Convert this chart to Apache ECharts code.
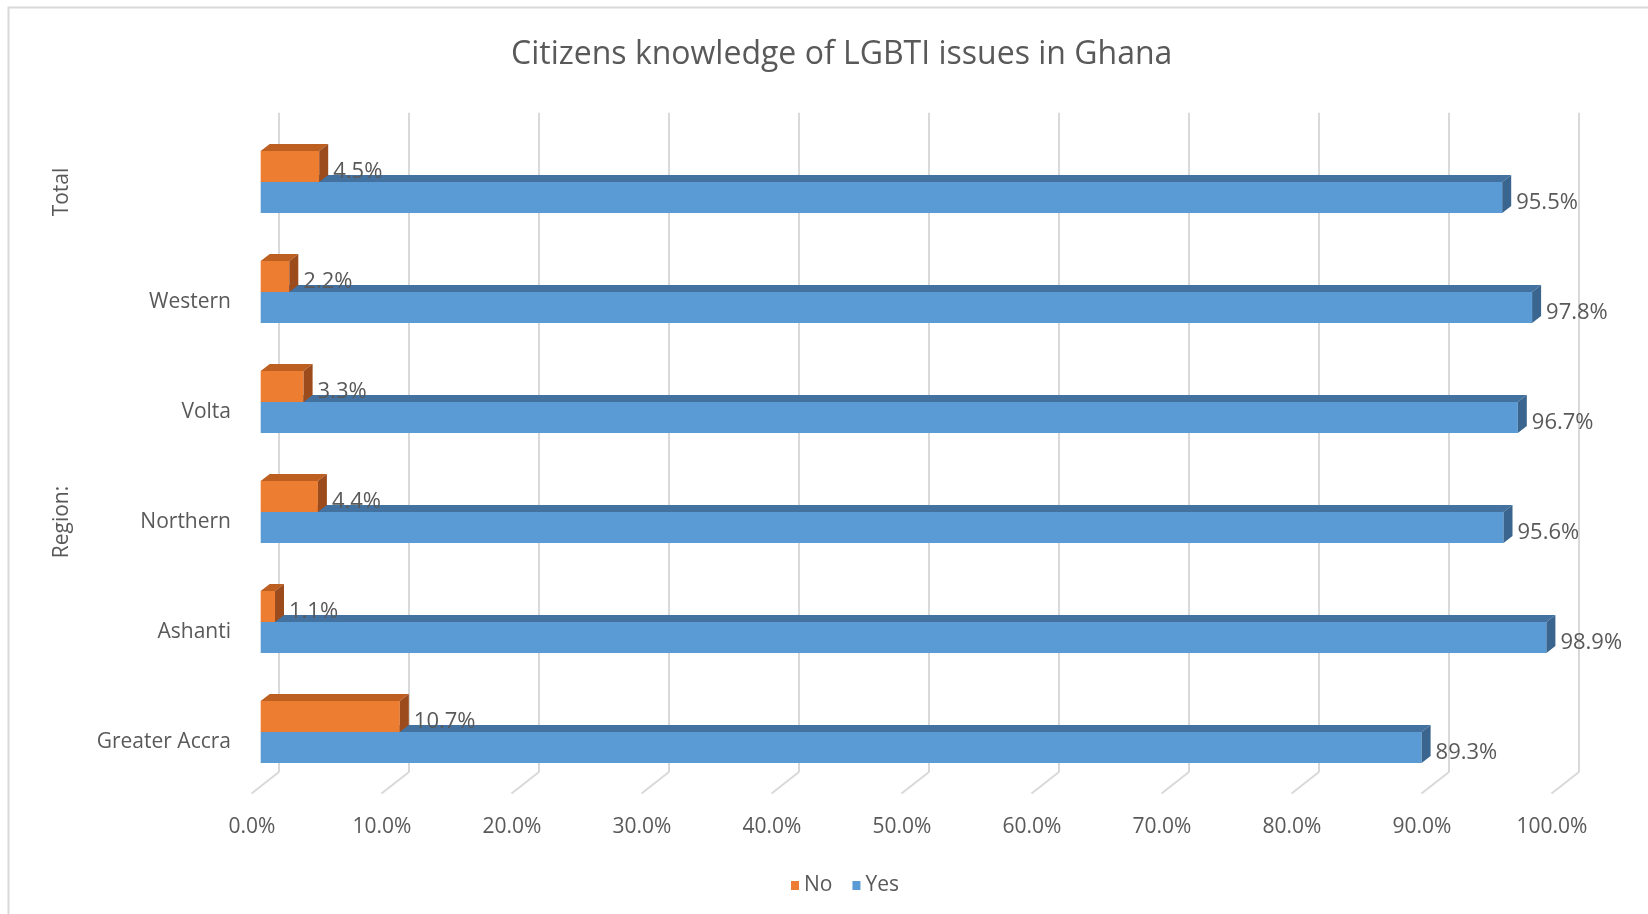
<!DOCTYPE html>
<html>
<head>
<meta charset="utf-8">
<script src="https://cdn.jsdelivr.net/npm/echarts@6/dist/echarts.min.js"></script>
<style>
  html, body { margin: 0; padding: 0; background: #ffffff; }
  #chart { width: 1648px; height: 914px; }
</style>
</head>
<body>
<div id="chart"></div>
<script>
// Survey answers, top row first
const regions = ['', 'Western', 'Volta', 'Northern', 'Ashanti', 'Greater Accra'];
const groupLabels = ['Total', '', '', 'Region:', '', ''];
const noValues = [4.5, 2.2, 3.3, 4.4, 1.1, 10.7];
const yesValues = [95.5, 97.8, 96.7, 95.6, 98.9, 89.3];
const seriesNames = ['No', 'Yes'];
const percentTicks = [0, 10, 20, 30, 40, 50, 60, 70, 80, 90, 100];

const TEXT = '#595959';
const FONT = '"Open Sans", "Noto Sans", sans-serif';
const GRID_LINE = '#D9D9D9';

// Bar faces: front, top, side
const PALETTE = {
  No:  { front: '#ED7D31', top: '#BE5F22', side: '#9C4C1C' },
  Yes: { front: '#5B9BD5', top: '#4372A0', side: '#39658F' }
};

// Pseudo-3D depth of the bars and of the floor
const BAR_DX = 9, BAR_DY = 7;
const FLOOR_DX = 27.5, FLOOR_DY = 21.5;
const BAR_FRACTION = 31 / 110;

function barRenderer(name, above) {
  const col = PALETTE[name];
  return function (params, api) {
    const v = api.value(0);
    const cat = api.value(1);
    const p0 = api.coord([0, cat]);
    const p1 = api.coord([v, cat]);
    const h = api.size([0, 1])[1] * BAR_FRACTION;
    const x0 = p0[0], x1 = p1[0];
    const yTop = above ? p0[1] - h : p0[1];
    const yBot = yTop + h;
    return {
      type: 'group',
      children: [
        { type: 'rect', shape: { x: x0, y: yTop, width: x1 - x0, height: h },
          style: { fill: col.front } },
        { type: 'polygon', shape: { points: [[x0, yTop], [x0 + BAR_DX, yTop - BAR_DY], [x1 + BAR_DX, yTop - BAR_DY], [x1, yTop]] },
          style: { fill: col.top } },
        { type: 'polygon', shape: { points: [[x1, yTop], [x1 + BAR_DX, yTop - BAR_DY], [x1 + BAR_DX, yBot - BAR_DY], [x1, yBot]] },
          style: { fill: col.side } },
        { type: 'text', x: x1 + BAR_DX + 5, y: (yTop + yBot) / 2 + 5,
          style: { text: v.toFixed(1) + '%', fill: TEXT, font: '22px ' + FONT, textAlign: 'left', textVerticalAlign: 'middle' } }
      ]
    };
  };
}

function floorTickRenderer(params, api) {
  const p = api.coord([api.value(0), 0]);
  return {
    type: 'line',
    shape: { x1: p[0], y1: p[1], x2: p[0] - FLOOR_DX, y2: p[1] + FLOOR_DY },
    style: { stroke: GRID_LINE, lineWidth: 2 }
  };
}

const chart = echarts.init(document.getElementById('chart'), null, { renderer: 'canvas' });

const option = {
  backgroundColor: '#ffffff',
  animation: false,
  textStyle: { fontFamily: FONT },
  title: {
    text: 'Citizens knowledge of LGBTI issues in Ghana',
    left: 506, top: 34,
    textStyle: { color: TEXT, fontSize: 32, fontWeight: 'normal', fontFamily: FONT }
  },
  legend: {
    data: seriesNames,
    left: 786, top: 870,
    itemWidth: 8, itemHeight: 9, itemGap: 20,
    icon: 'rect',
    textStyle: { color: TEXT, fontSize: 21, fontFamily: FONT }
  },
  graphic: [{
    type: 'rect', silent: true, z: -10,
    shape: { x: 8.5, y: 7.5, width: 1700, height: 1000 },
    style: { fill: 'none', stroke: GRID_LINE, lineWidth: 2 }
  }],
  grid: [
    // bars (front plane)
    { left: 260.7, top: 127, width: 1300, height: 660 },
    // back wall with gridlines
    { left: 279, top: 112.7, width: 1300, height: 659.3 },
    // front floor edge: tick labels and category labels
    { left: 252, top: 137, width: 1300, height: 660 }
  ],
  xAxis: [
    { gridIndex: 0, type: 'value', min: 0, max: 100, interval: 10, show: false },
    { gridIndex: 1, type: 'value', min: 0, max: 100, interval: 10,
      axisLine: { show: false }, axisTick: { show: false }, axisLabel: { show: false },
      splitLine: { show: true, lineStyle: { color: GRID_LINE, width: 2 } } },
    { gridIndex: 2, type: 'value', min: 0, max: 100, interval: 10,
      axisLine: { show: false }, axisTick: { show: false }, splitLine: { show: false },
      axisLabel: { color: TEXT, fontSize: 21, fontFamily: FONT, margin: 20,
        formatter: function (v) { return v.toFixed(1) + '%'; } } }
  ],
  yAxis: [
    { gridIndex: 0, type: 'category', data: regions, inverse: true, show: false },
    { gridIndex: 1, type: 'value', min: 0, max: 1, show: false },
    { gridIndex: 2, type: 'category', data: regions, inverse: true,
      axisLine: { show: false }, axisTick: { show: false }, splitLine: { show: false },
      axisLabel: { color: TEXT, fontSize: 21, fontFamily: FONT, margin: 21, interval: 0 } },
    { gridIndex: 2, type: 'category', data: groupLabels, inverse: true, position: 'left', offset: 171,
      axisLine: { show: false }, axisTick: { show: false }, splitLine: { show: false },
      axisLabel: { color: TEXT, fontSize: 21, fontFamily: FONT, margin: 8, rotate: 90, interval: 0 } }
  ],
  series: [
    {
      name: 'No', type: 'custom', xAxisIndex: 0, yAxisIndex: 0, z: 4,
      itemStyle: { color: PALETTE.No.front },
      renderItem: barRenderer('No', true),
      encode: { x: 0, y: 1 },
      data: noValues.map(function (v, i) { return [v, i]; })
    },
    {
      name: 'Yes', type: 'custom', xAxisIndex: 0, yAxisIndex: 0, z: 3,
      itemStyle: { color: PALETTE.Yes.front },
      renderItem: barRenderer('Yes', false),
      encode: { x: 0, y: 1 },
      data: yesValues.map(function (v, i) { return [v, i]; })
    },
    {
      name: 'floor', type: 'custom', xAxisIndex: 1, yAxisIndex: 1, z: 1, silent: true,
      renderItem: floorTickRenderer,
      encode: { x: 0, y: 1 },
      data: percentTicks.map(function (v) { return [v, 0]; })
    }
  ]
};

chart.setOption(option);
</script>
</body>
</html>
